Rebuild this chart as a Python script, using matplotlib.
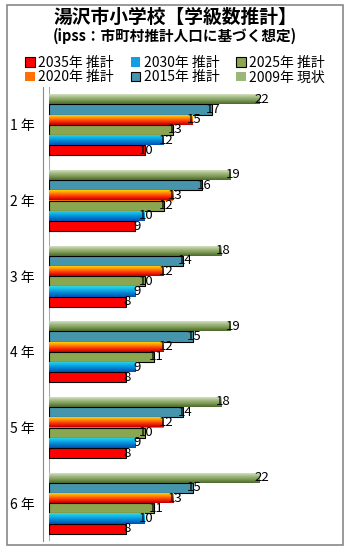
import numpy as np
import matplotlib
matplotlib.use("Agg")
import matplotlib.pyplot as plt
from matplotlib.patches import Rectangle
from matplotlib.colors import LinearSegmentedColormap

plt.rcParams['font.family'] = ['Noto Sans CJK JP', 'DejaVu Sans']

# Data
grades = ['1 年', '2 年', '3 年', '4 年', '5 年', '6 年']
series = ['2009年 現状', '2015年 推計', '2020年 推計', '2025年 推計', '2030年 推計', '2035年 推計']
v2009 = [22, 19, 18, 19, 18, 22]
v2015 = [17, 16, 14, 15, 14, 15]
v2020 = [15, 13, 12, 12, 12, 13]
v2025 = [13, 12, 10, 11, 10, 11]
v2030 = [12, 10, 9, 9, 9, 10]
v2035 = [10, 9, 8, 8, 8, 8]
values = [v2009, v2015, v2020, v2025, v2030, v2035]

# Style per series: (gradient colours top->bottom or None, face colour, edge)
styles = [
    (['#dfe8cf', '#a9c08a', '#7d9a55', '#4e6b2e'], '#9bb77a', 'none'),
    (None, '#4596ad', 'black'),
    (['#ffe000', '#ff9000', '#ff3000', '#c00000'], '#ff7000', 'none'),
    (None, '#8ba650', 'black'),
    (['#30d8e0', '#10b0e8', '#0080d0', '#0050b0'], '#10a0e0', 'none'),
    (None, '#ff0000', 'black'),
]

fig = plt.figure(figsize=(3.5, 5.5), dpi=100)
ax = fig.add_axes([0.14, 1 - 541 / 550, 0.82, 454 / 550])

# frame around the chart
fig.patches.append(Rectangle((7 / 350, 1 - 545 / 550), 336 / 350, 540 / 550,
                             transform=fig.transFigure, fill=False,
                             edgecolor='#888888', linewidth=1.2))

n = len(series)
h = 0.135
y = np.arange(len(grades))
for i, (vals, (grad, fc, ec)) in enumerate(zip(values, styles)):
    pos = y - (n - 1) / 2 * h + i * h
    bars = ax.barh(pos, vals, height=h, color=fc, edgecolor=ec, linewidth=0.8, zorder=2)
    if grad is not None:
        cmap = LinearSegmentedColormap.from_list('g%d' % i, grad)
        for b in bars:
            x0, y0 = b.get_x(), b.get_y()
            w, hh = b.get_width(), b.get_height()
            im = ax.imshow(np.linspace(0, 1, 20).reshape(-1, 1), cmap=cmap, aspect='auto',
                           extent=(x0, x0 + w, y0 + hh, y0), zorder=2.5,
                           interpolation='bilinear')
            im.set_clip_path(b)
    for b, v in zip(bars, vals):
        ax.text(b.get_width() + 0.2, b.get_y() + b.get_height() / 2, str(v),
                ha='center', va='center', fontsize=9.5, color='black', zorder=4)

ax.set_xlim(0, 30)
ax.set_ylim(len(grades) - 0.5, -0.5)
ax.set_yticks(y)
ax.set_yticklabels(grades, fontsize=10)
ax.set_xticks([])
ax.tick_params(axis='y', length=0, pad=6)
for s in ['top', 'right', 'bottom']:
    ax.spines[s].set_visible(False)
ax.spines['left'].set_color('#888888')
ax.spines['left'].set_position(('outward', 4))
ax.axvline(0, color='#aaaaaa', linewidth=0.8, zorder=1)

fig.text(0.5, 1 - 17 / 550, '湯沢市小学校【学級数推計】', ha='center', va='center',
         fontsize=13.5, fontweight='bold')
fig.text(0.5, 1 - 36 / 550, '(ipss：市町村推計人口に基づく想定)', ha='center', va='center',
         fontsize=10.5, fontweight='bold')

# legend in the reference order (row-wise: 2035, 2030, 2025 / 2020, 2015, 2009)
handles = ax.containers
order = [5, 2, 4, 1, 3, 0]
leg = fig.legend([handles[k] for k in order], [series[k] for k in order],
                 loc='center', bbox_to_anchor=(0.5, 1 - 70 / 550), ncol=3,
                 frameon=False, fontsize=10, handlelength=0.7, handleheight=0.7,
                 handletextpad=0.25, columnspacing=1.2, labelspacing=0.05,
                 borderaxespad=0)

fig.savefig('out.png', dpi=100)
